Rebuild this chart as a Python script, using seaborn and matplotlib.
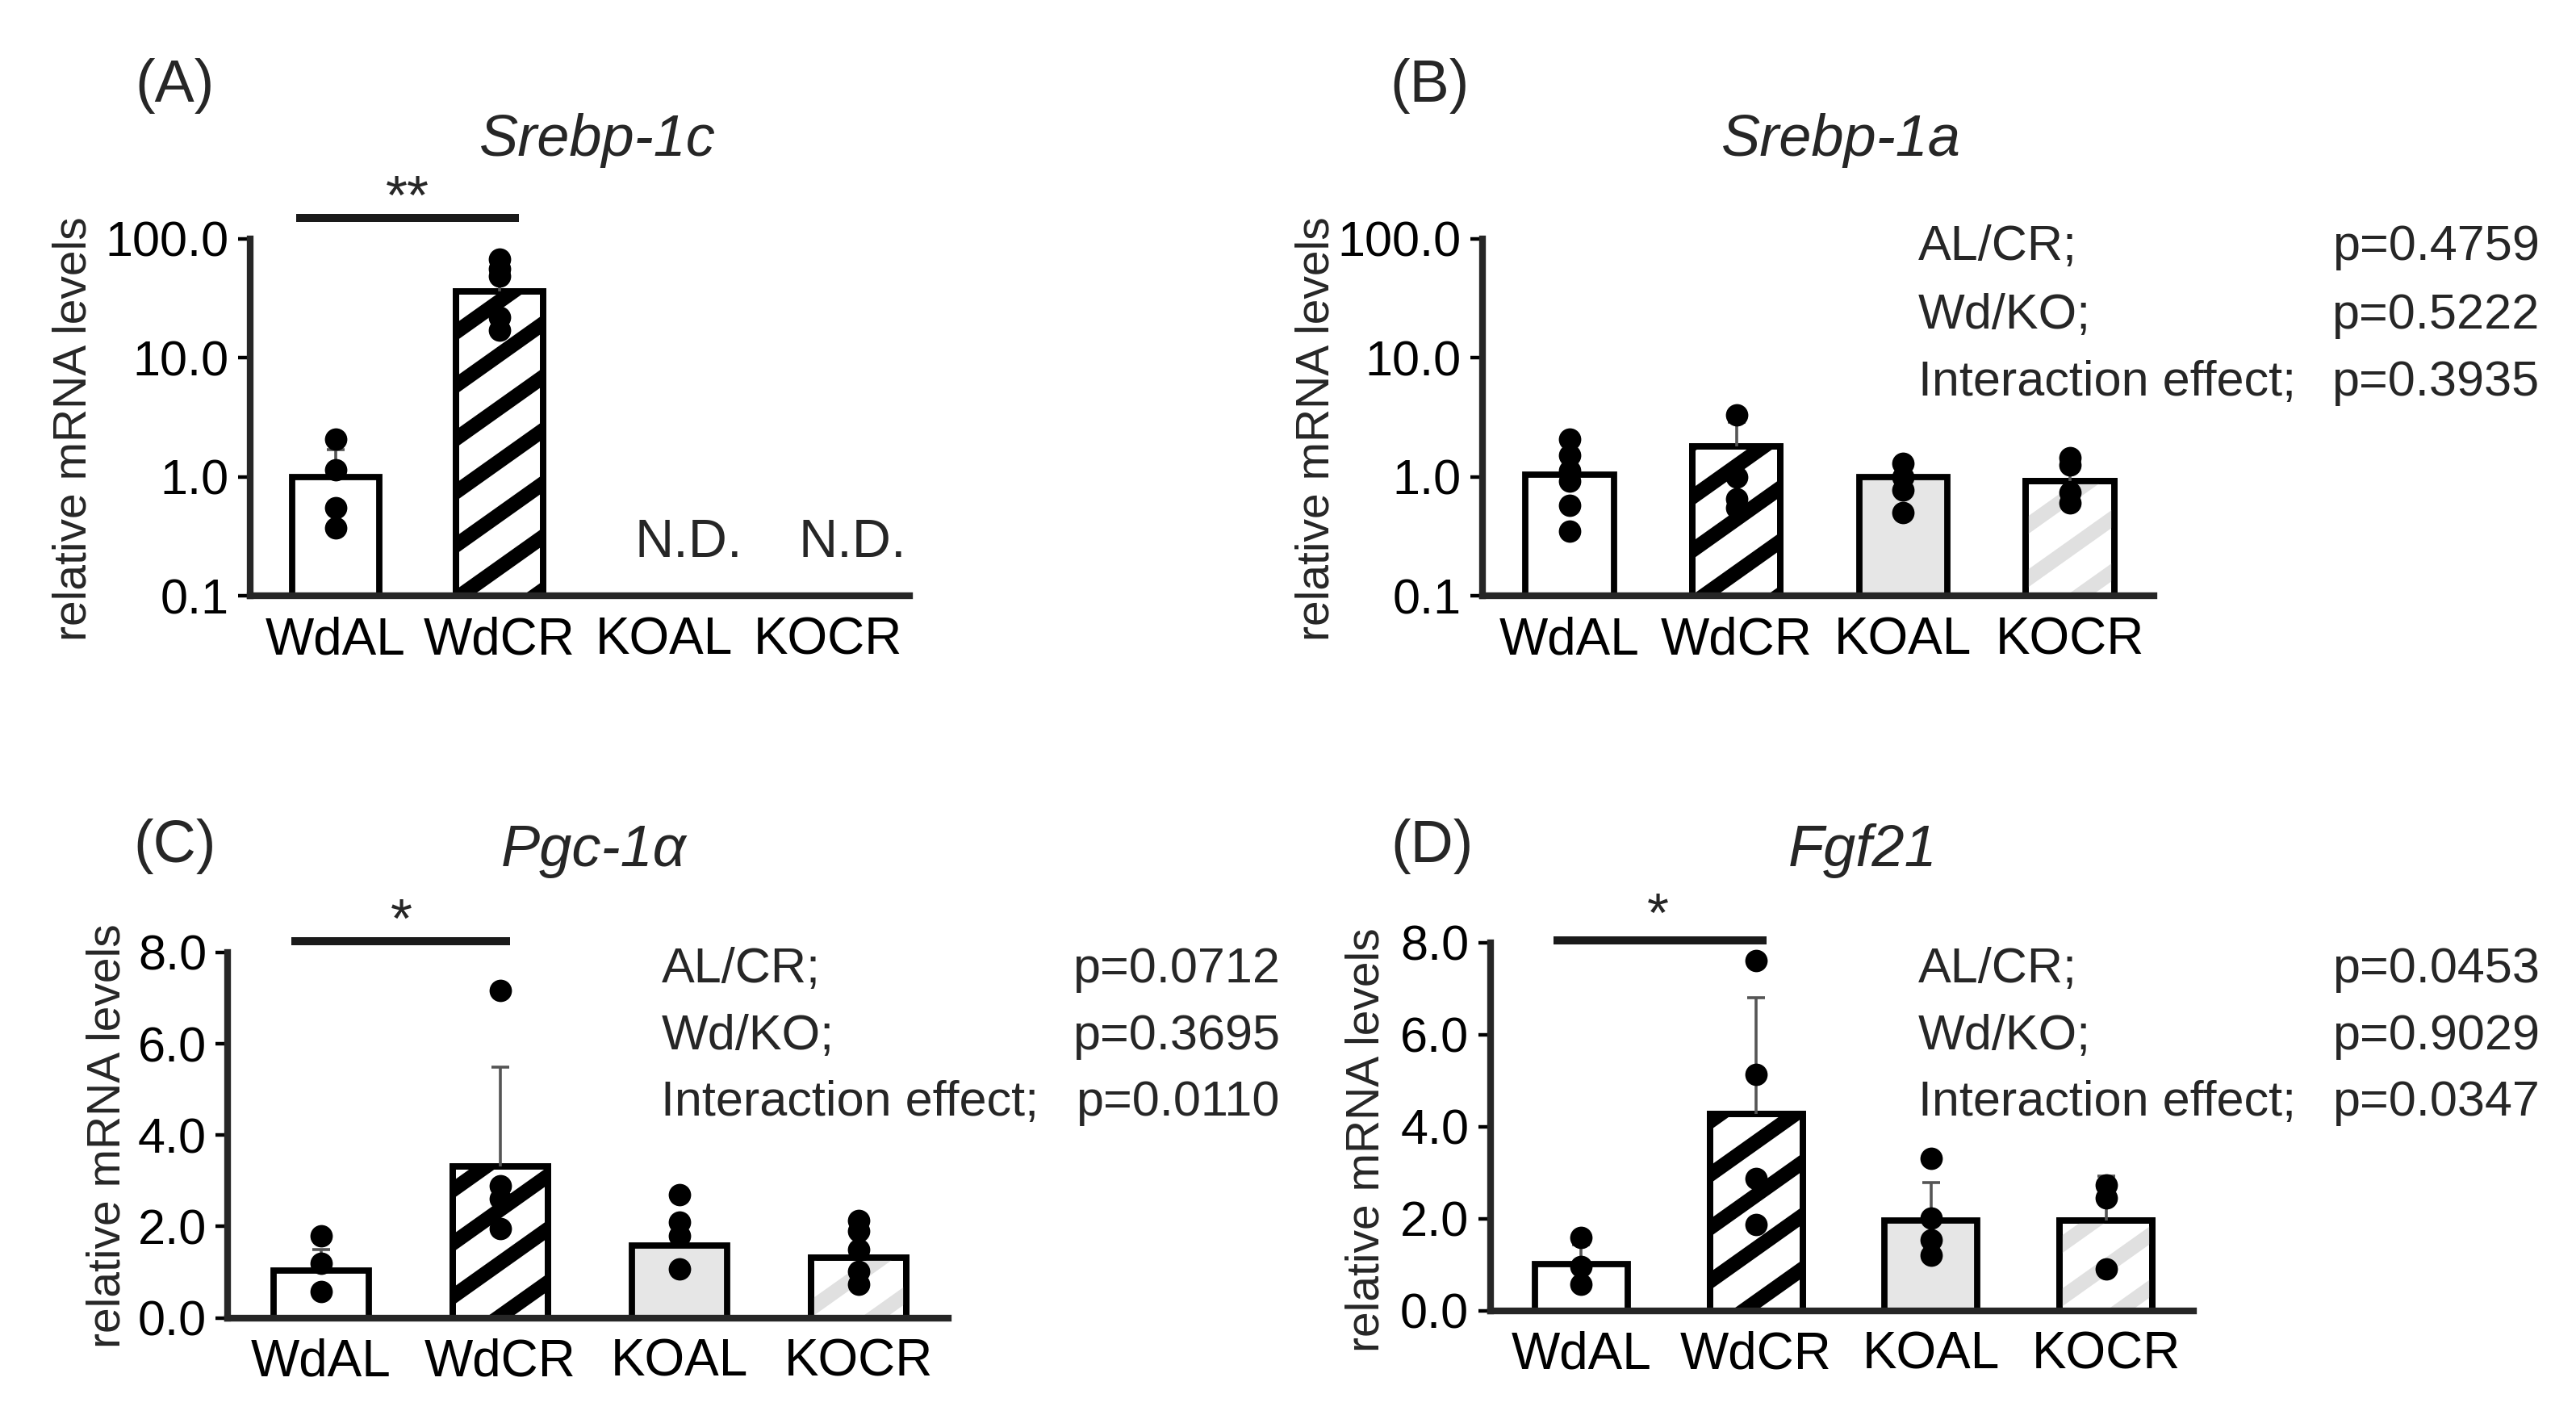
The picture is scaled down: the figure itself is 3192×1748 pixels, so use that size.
import numpy as np
import pandas as pd
import matplotlib
matplotlib.use('Agg')
import matplotlib.pyplot as plt
from matplotlib.patches import PathPatch
from matplotlib.ticker import FixedLocator, NullLocator
import seaborn as sns

groups = ['WdAL', 'WdCR', 'KOAL', 'KOCR']

# (A) Srebp-1c  (log axis, KO groups not detected)
srebp1c_mean = [1.0, 36.0, np.nan, np.nan]
srebp1c_top = [1.7, 60.0, np.nan, np.nan]
srebp1c_pts = [[2.07, 1.14, 0.55, 0.375], [68, 56, 49, 22, 17], [], []]

# (B) Srebp-1a  (log axis)
srebp1a_mean = [1.04, 1.8, 1.0, 0.92]
srebp1a_top = [1.66, 2.9, 1.29, 1.29]
srebp1a_pts = [[2.06, 1.53, 1.13, 0.92, 0.58, 0.35], [3.3, 1.0, 0.65, 0.55],
               [1.29, 1.0, 0.78, 0.5], [1.45, 1.25, 0.74, 0.6]]
srebp1a_stats = ['p=0.4759', 'p=0.5222', 'p=0.3935']

# (C) Pgc-1a
pgc1a_mean = [1.04, 3.32, 1.58, 1.31]
pgc1a_top = [1.5, 5.49, 2.18, 1.9]
pgc1a_pts = [[1.8, 1.2, 0.58], [7.16, 2.9, 2.6, 1.95],
             [2.69, 2.09, 1.8, 1.07], [2.14, 1.9, 1.5, 1.02, 0.73]]
pgc1a_stats = ['p=0.0712', 'p=0.3695', 'p=0.0110']

# (D) Fgf21
fgf21_mean = [1.01, 4.28, 1.97, 1.97]
fgf21_top = [1.44, 6.8, 2.79, 2.93]
fgf21_pts = [[1.59, 0.96, 0.58], [7.6, 5.14, 2.88, 1.88],
             [3.32, 2.02, 1.54, 1.2], [2.74, 2.45, 0.91]]
fgf21_stats = ['p=0.0453', 'p=0.9029', 'p=0.0347']

stat_names = ['AL/CR;', 'Wd/KO;', 'Interaction effect;']

face_cols = ['white', 'white', '#e6e6e6', 'white']
stripe_cols = [None, 'black', None, '#e0e0e0']

sns.set_style('ticks')
FONT = ['Liberation Sans', 'DejaVu Sans']
plt.rcParams['font.family'] = FONT
plt.rcParams['axes.linewidth'] = 3

fig = plt.figure(figsize=(15.96, 8.74), dpi=200)


def stripes(ax, patch, color):
    fw, fh = fig.get_size_inches() * fig.dpi
    pos = ax.get_position()
    w_px, h_px = pos.width * fw, pos.height * fh
    slope = 0.71 * w_px / h_px
    period = 66 / h_px
    for c in np.arange(-slope - period, 1 + period, period):
        ln, = ax.plot([0, 1], [c, c + slope], transform=ax.transAxes, color=color,
                      lw=6.5, solid_capstyle='butt', zorder=2.1)
        ln.set_clip_path(patch)


def panel(rect, means, tops, pts, log=False):
    ax = fig.add_axes(rect)
    bars = pd.DataFrame({'group': groups, 'value': means})
    dots = pd.DataFrame({'group': [g for g, p in zip(groups, pts) for _ in p],
                         'value': [v for p in pts for v in p]})
    sns.barplot(data=bars, x='group', y='value', order=groups, ax=ax, width=0.53,
                errorbar=None, color='white', edgecolor='black', linewidth=2.8, zorder=2)
    sns.stripplot(data=dots, x='group', y='value', order=groups, ax=ax, jitter=False,
                  color='black', size=10, zorder=4)
    for i, (m, t) in enumerate(zip(means, tops)):
        if np.isnan(m):
            continue
        eb = ax.errorbar(i, m, yerr=[[0], [t - m]], fmt='none', ecolor='#555555',
                         elinewidth=1.3, capsize=4, capthick=1.3, zorder=3)
        eb[1][0].set_visible(False)
    if log:
        ax.set_yscale('log')
        ax.set_ylim(0.1, 100)
        ax.yaxis.set_major_locator(FixedLocator([0.1, 1, 10, 100]))
        ax.set_yticklabels(['0.1', '1.0', '10.0', '100.0'])
        ax.yaxis.set_minor_locator(NullLocator())
    else:
        ax.set_ylim(0, 8)
        ax.set_yticks([0, 2, 4, 6, 8])
        ax.set_yticklabels(['0.0', '2.0', '4.0', '6.0', '8.0'])
    ax.set_xlim(-0.52, 3.5)
    ax.set_xlabel('')
    ax.set_ylabel('')
    sns.despine(ax=ax)
    ax.tick_params(axis='y', length=5.5, width=1.6, pad=4, labelsize=22, colors='black')
    ax.tick_params(axis='x', length=0, pad=9, labelsize=23, colors='black')
    for p in list(ax.patches):
        h = p.get_height()
        if np.isnan(h):
            continue
        i = int(round(p.get_x() + p.get_width() / 2))
        if log:
            top = p.get_y() + h
            p.set_y(0.1)
            p.set_height(top - 0.1)
        p.set_facecolor(face_cols[i])
        if stripe_cols[i] is not None:
            stripes(ax, p, stripe_cols[i])
            ax.add_patch(PathPatch(p.get_path(), transform=p.get_transform(), fill=False,
                                   edgecolor='black', lw=2.8, zorder=2.2))
    return ax


def stats(x0, x1, ys, pvals):
    for name, pv, y in zip(stat_names, pvals, ys):
        fig.text(x0, y, name, ha='left', va='center', fontsize=22)
        fig.text(x1, y, pv, ha='right', va='center', fontsize=22)


def sig(ax, x0, x1, y, xs, ys, mark):
    ax.plot([x0, x1], [y, y], color='#1a1a1a', lw=3.6, clip_on=False, solid_capstyle='butt')
    ax.text(xs, ys, mark, ha='center', va='center', fontsize=25, clip_on=False)


axA = panel([0.0971, 0.5777, 0.2561, 0.2530], srebp1c_mean, srebp1c_top, srebp1c_pts, log=True)
for i in (2, 3):
    axA.text(i + 0.15, 0.17, 'N.D.', ha='center', va='bottom', fontsize=24)
sig(axA, -0.24, 1.12, 151, 0.44, 215, '**')

axB = panel([0.5756, 0.5777, 0.2604, 0.2530], srebp1a_mean, srebp1a_top, srebp1a_pts, log=True)
stats(0.7447, 0.9858, [0.8244, 0.7763, 0.7283], srebp1a_stats)

axC = panel([0.0885, 0.0660, 0.2795, 0.2590], pgc1a_mean, pgc1a_top, pgc1a_pts)
sig(axC, -0.167, 1.055, 8.25, 0.45, 8.65, '*')
stats(0.2567, 0.4968, [0.3129, 0.2649, 0.2180], pgc1a_stats)

axD = panel([0.5785, 0.0710, 0.2730, 0.2610], fgf21_mean, fgf21_top, fgf21_pts)
sig(axD, -0.16, 1.06, 8.05, 0.44, 8.55, '*')
stats(0.7447, 0.9858, [0.3129, 0.2649, 0.2180], fgf21_stats)

# y labels
for x, y in [(0.0288, 0.696), (0.5110, 0.696), (0.0417, 0.195), (0.5307, 0.192)]:
    fig.text(x, y, 'relative mRNA levels', rotation=90, ha='center', va='center',
             fontsize=20.5)

# gene titles
for x, y, t in [(0.232, 0.9005, 'Srebp-1c'), (0.7147, 0.9005, 'Srebp-1a'),
                (0.2306, 0.397, 'Pgc-1α'), (0.723, 0.397, 'Fgf21')]:
    fig.text(x, y, t, ha='center', va='center', fontsize=26, fontstyle='italic')

# panel letters
for x, y, t in [(0.068, 0.939, '(A)'), (0.555, 0.939, '(B)'),
                (0.068, 0.400, '(C)'), (0.556, 0.400, '(D)')]:
    fig.text(x, y, t, ha='center', va='center', fontsize=26.5)

fig.savefig('out.png', dpi=200)
